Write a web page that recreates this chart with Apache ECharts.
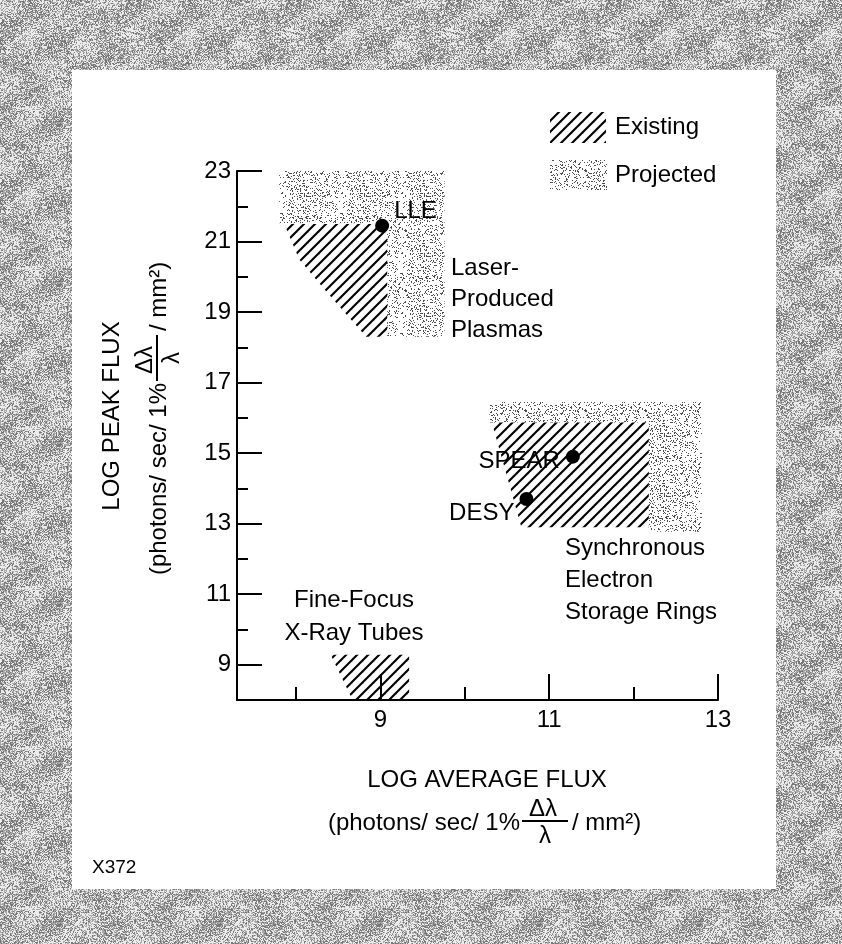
<!DOCTYPE html>
<html><head><meta charset="utf-8">
<script src="https://cdn.jsdelivr.net/npm/echarts@6/dist/echarts.min.js"></script>
<style>html,body{margin:0;padding:0;background:#fff}#c{width:842px;height:944px}</style>
</head><body><div id="c"></div>
<script>
// ---- data ----
const xMajorTicks = [9, 11, 13];
const xMinorTicks = [8, 10, 12];
const yMajorTicks = [9, 11, 13, 15, 17, 19, 21, 23];
const yMinorTicks = [10, 12, 14, 16, 18, 20, 22];

// region outlines (log average flux, log peak flux)
const plasmaProjected = [[7.80, 23.0], [9.76, 23.0], [9.76, 18.30], [9.08, 18.30], [9.08, 21.52], [7.80, 21.52]];
const plasmaExisting  = [[7.86, 21.50], [9.08, 21.50], [9.08, 18.30], [8.83, 18.30], [8.34, 19.63], [8.04, 20.48]];
const ringsProjected  = [[10.29, 16.45], [12.81, 16.45], [12.81, 12.77], [12.18, 12.77], [12.18, 15.87], [10.29, 15.87]];
const ringsExisting   = [[10.32, 15.87], [12.18, 15.87], [12.18, 12.90], [10.67, 12.90]];
const tubesExisting   = [[8.41, 9.28], [9.34, 9.28], [9.34, 8.0], [8.67, 8.0]];

const sourceNames  = ['LLE', 'SPEAR', 'DESY'];
const sourcePoints = [[9.02, 21.45], [11.28, 14.90], [10.73, 13.70]];

const FONT = "'Liberation Sans', Arial, Helvetica, sans-serif";

// ---- textures (style only, deterministic) ----
function hash(x, y, s) {
  let h = (Math.imul(x | 0, 0x27d4eb2d) ^ Math.imul(y | 0, 0x165667b1) ^ Math.imul(s | 0, 0x9e3779b1)) >>> 0;
  h = Math.imul(h ^ (h >>> 15), 0x85ebca6b) >>> 0;
  h = Math.imul(h ^ (h >>> 13), 0xc2b2ae35) >>> 0;
  h = (h ^ (h >>> 16)) >>> 0;
  return h / 4294967296;
}
function makeHatch() {
  const c = document.createElement('canvas'); c.width = 11; c.height = 11;
  const g = c.getContext('2d');
  g.strokeStyle = '#000'; g.lineWidth = 2.1;
  [-11, 0, 11].forEach(k => { g.beginPath(); g.moveTo(k - 3, 14); g.lineTo(k + 14, -3); g.stroke(); });
  return c;
}
function makeStipple() {
  const n = 60, c = document.createElement('canvas'); c.width = n; c.height = n;
  const g = c.getContext('2d'); const img = g.createImageData(n, n);
  for (let y = 0; y < n; y++) for (let x = 0; x < n; x++) {
    const i = (y * n + x) * 4, on = hash(x, y, 11) < 0.17;
    img.data[i] = img.data[i + 1] = img.data[i + 2] = 40; img.data[i + 3] = on ? 210 : 0;
  }
  g.putImageData(img, 0, 0); return c;
}
function makeGray() {
  const n = 160, c = document.createElement('canvas'); c.width = n; c.height = n;
  const g = c.getContext('2d'); const img = g.createImageData(n, n);
  for (let y = 0; y < n; y++) for (let x = 0; x < n; x++) {
    const i = (y * n + x) * 4;
    const a = 2 * Math.PI / n;
    const patch = 0.42 + 0.12 * Math.sin(x * a * 3 + 1.3) * Math.cos(y * a * 2) + 0.08 * Math.sin((x + 2 * y) * a * 2);
    const r = hash(x, y, 5);
    const v = r < patch ? 236 : (r < patch + 0.33 ? 168 : 118);
    img.data[i] = img.data[i + 1] = img.data[i + 2] = v; img.data[i + 3] = 255;
  }
  g.putImageData(img, 0, 0); return c;
}
const hatchFill = { image: makeHatch(), repeat: 'repeat' };
const stippleFill = { image: makeStipple(), repeat: 'repeat' };
const grayFill = { image: makeGray(), repeat: 'repeat' };

function polySeries(name, pts, fill, z) {
  return {
    type: 'custom', name: name, coordinateSystem: 'cartesian2d', data: pts, silent: true, z: z, clip: false,
    renderItem: function (params, api) {
      if (params.dataIndex !== 0) return null;
      return { type: 'polygon', shape: { points: pts.map(p => api.coord(p)) }, style: { fill: fill, stroke: null } };
    }
  };
}

const txt = (o) => Object.assign({ fill: '#000', font: '24px ' + FONT }, o);

// two-line axis title with stacked fraction, built in text frame (origin at centre of line 2)
function titleChildren(l2, first) {
  return [
    { type: 'text', x: 0, y: -l2, style: txt({ text: first, align: 'center', verticalAlign: 'middle' }) },
    { type: 'text', x: 33, y: 0, style: txt({ text: '(photons/ sec/ 1%', align: 'right', verticalAlign: 'middle' }) },
    { type: 'text', x: 56, y: -14, style: txt({ text: 'Δλ', align: 'center', verticalAlign: 'middle' }) },
    { type: 'line', shape: { x1: 35, y1: -2, x2: 81, y2: -2 }, style: { stroke: '#000', lineWidth: 2 } },
    { type: 'text', x: 58, y: 13, style: txt({ text: 'λ', align: 'center', verticalAlign: 'middle' }) },
    { type: 'text', x: 85, y: 0, style: txt({ text: '/ mm²)', align: 'left', verticalAlign: 'middle' }) }
  ];
}

const axisStyle = { color: '#000', width: 2 };
const option = {
  animation: false,
  backgroundColor: 'transparent',
  grid: { left: 237, top: 171, width: 481, height: 529, containLabel: false },
  xAxis: [
    { type: 'value', min: 7.3, max: 13, position: 'bottom',
      axisLine: { show: true, onZero: false, lineStyle: axisStyle },
      axisTick: { show: true, inside: true, length: 26, lineStyle: axisStyle, customValues: xMajorTicks },
      axisLabel: { show: true, customValues: xMajorTicks, color: '#000', fontSize: 24, fontFamily: FONT, margin: 8 },
      splitLine: { show: false } },
    { type: 'value', min: 7.3, max: 13, position: 'bottom',
      axisLine: { show: false, onZero: false },
      axisTick: { show: true, inside: true, length: 13, lineStyle: axisStyle, customValues: xMinorTicks },
      axisLabel: { show: false }, splitLine: { show: false } }
  ],
  yAxis: [
    { type: 'value', min: 8, max: 23, position: 'left',
      axisLine: { show: true, onZero: false, lineStyle: axisStyle },
      axisTick: { show: true, inside: true, length: 25, lineStyle: axisStyle, customValues: yMajorTicks },
      axisLabel: { show: true, customValues: yMajorTicks, color: '#000', fontSize: 24, fontFamily: FONT, margin: 6 },
      splitLine: { show: false } },
    { type: 'value', min: 8, max: 23, position: 'left',
      axisLine: { show: false, onZero: false },
      axisTick: { show: true, inside: true, length: 11, lineStyle: axisStyle, customValues: yMinorTicks },
      axisLabel: { show: false }, splitLine: { show: false } }
  ],
  series: [
    polySeries('Projected plasmas', plasmaProjected, stippleFill, 1),
    polySeries('Existing plasmas', plasmaExisting, hatchFill, 1),
    polySeries('Projected rings', ringsProjected, stippleFill, 1),
    polySeries('Existing rings', ringsExisting, hatchFill, 1),
    polySeries('Existing tubes', tubesExisting, hatchFill, 1),
    { type: 'scatter', z: 5, symbol: 'circle', symbolSize: 14, itemStyle: { color: '#000', opacity: 1 },
      emphasis: { disabled: true },
      data: sourcePoints.map((p, i) => ({
        value: p, name: sourceNames[i],
        label: i === 0 ? { position: 'right', distance: 5, offset: [0, -14] }
             : (i === 1 ? { position: 'left', distance: 6, offset: [0, 5] } : { position: 'left', distance: 5, offset: [0, 14] })
      })),
      label: { show: true, formatter: '{b}', color: '#000', opacity: 1, textBorderWidth: 0, fontSize: 24, fontFamily: FONT }
    }
  ],
  graphic: [
    { type: 'rect', z: -100, silent: true, shape: { x: 0, y: 0, width: 842, height: 944 }, style: { fill: grayFill } },
    { type: 'rect', z: -99, silent: true, shape: { x: 72, y: 70, width: 704, height: 819 }, style: { fill: '#fff' } },
    // legend
    { type: 'rect', shape: { x: 550, y: 112, width: 56, height: 31 }, style: { fill: hatchFill } },
    { type: 'text', x: 615, y: 127, style: txt({ text: 'Existing', verticalAlign: 'middle' }) },
    { type: 'rect', shape: { x: 550, y: 160, width: 57, height: 30 }, style: { fill: stippleFill } },
    { type: 'text', x: 615, y: 175, style: txt({ text: 'Projected', verticalAlign: 'middle' }) },
    // region names
    { type: 'text', x: 451, y: 299, style: txt({ text: 'Laser-\nProduced\nPlasmas', verticalAlign: 'middle', lineHeight: 31 }) },
    { type: 'text', x: 565, y: 580, style: txt({ text: 'Synchronous\nElectron\nStorage Rings', verticalAlign: 'middle', lineHeight: 32 }) },
    { type: 'text', x: 354, y: 617, style: txt({ text: 'Fine-Focus\nX-Ray Tubes', align: 'center', verticalAlign: 'middle', lineHeight: 33 }) },
    // axis titles
    { type: 'group', x: 487, y: 823, children: titleChildren(43, 'LOG AVERAGE FLUX') },
    { type: 'group', x: 159, y: 416, rotation: Math.PI / 2, children: titleChildren(47, 'LOG PEAK FLUX') },
    { type: 'text', x: 92, y: 868, style: txt({ text: 'X372', verticalAlign: 'middle', font: '19px ' + FONT }) }
  ]
};
const chart = echarts.init(document.getElementById('c'), null, { width: 842, height: 944 });
chart.setOption(option);
</script></body></html>
